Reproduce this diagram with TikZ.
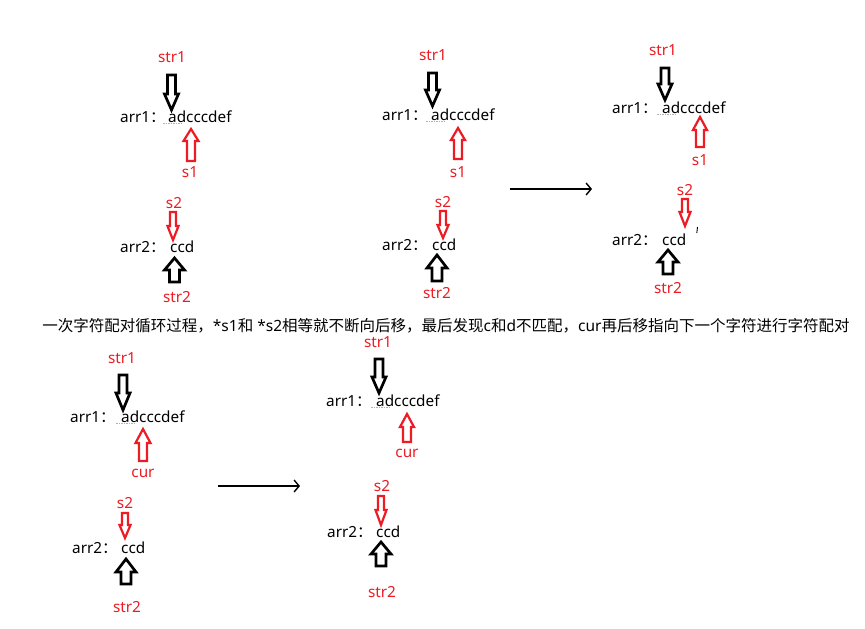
\documentclass[tikz,border=0pt]{standalone}
\usepackage{fontspec}
\setmainfont{Noto Sans}
\newfontfamily\cjk{Noto Sans CJK SC}
\usetikzlibrary{arrows.meta}
\definecolor{myred}{RGB}{237,28,36}
\tikzset{
  lbl/.style={font=\fontsize{15.3}{18}\selectfont, inner sep=0pt},
  redlbl/.style={lbl, text=myred},
  txt/.style={lbl, anchor=mid west, yshift=-3pt},
  blk/.style={draw=black, line width=2.7pt, line join=miter},
  rdb/.style={draw=myred, line width=2.2pt, line join=miter},
  flow/.style={line width=1.4pt, -{Straight Barb[length=5pt,width=12pt]}},
  smudge/.style={draw=black!30, line width=0.6pt, dash pattern=on 1.5pt off 1pt},
}
% style, x, y tail, y head base, y tip, shaft half width, head half width
\newcommand\blockarr[7]{\draw[#1] ({#2-#6},#3) -- ({#2-#6},#4) -- ({#2-#7},#4) -- (#2,#5) -- ({#2+#7},#4) -- ({#2+#6},#4) -- ({#2+#6},#3) -- cycle;}
\begin{document}
\begin{tikzpicture}[x=1pt,y=-1pt]
\useasboundingbox (0,0) rectangle (865,629);
\fill[white] (0,0) rectangle (865,629);

% ---------- panel 1 ----------
\node[redlbl] (p1str1) at (172,57) {str1};
\blockarr{blk}{171.5}{75}{94}{110}{4}{7}
\node[txt] (p1arr1) at (120,117) {arr1{\cjk ：}};
\node[txt] (p1s) at (168,117) {adcccdef};
\draw[smudge] (163,123) -- (183,123);
\blockarr{rdb}{191}{161}{141}{129}{4}{7.5}
\node[redlbl] (p1s1) at (190,172) {s1};
\node[redlbl] (p1s2) at (174,203) {s2};
\blockarr{rdb}{173}{212}{226}{240}{3}{5.5}
\node[txt] (p1arr2) at (120,247) {arr2{\cjk ：}};
\node[txt] (p1t) at (170,247) {ccd};
\blockarr{blk}{174.5}{282}{270}{258}{5}{10}
\node[redlbl] (p1str2) at (177,297) {str2};

% ---------- panel 2 ----------
\node[redlbl] (p2str1) at (433,55) {str1};
\blockarr{blk}{432.5}{73}{90}{106}{4}{7}
\node[txt] (p2arr1) at (382,115) {arr1{\cjk ：}};
\node[txt] (p2s) at (431,115) {adcccdef};
\draw[smudge] (426,121) -- (446,121);
\blockarr{rdb}{458}{159}{140}{128}{4}{7}
\node[redlbl] (p2s1) at (458,172) {s1};
\node[redlbl] (p2s2) at (443,202) {s2};
\blockarr{rdb}{443}{211}{225}{238}{3}{5.5}
\node[txt] (p2arr2) at (382,245) {arr2{\cjk ：}};
\node[txt] (p2t) at (432,245) {ccd};
\blockarr{blk}{437}{281}{268}{255}{5}{10}
\node[redlbl] (p2str2) at (437,293) {str2};

\coordinate (f1a) at (510,189);
\coordinate (f1b) at (592,189);
\draw[flow] (f1a) -- (f1b);

% ---------- panel 3 ----------
\node[redlbl] (p3str1) at (663,50) {str1};
\blockarr{blk}{665}{68}{84}{100}{4}{7}
\node[txt] (p3arr1) at (612,108) {arr1{\cjk ：}};
\node[txt] (p3s) at (662,108) {adcccdef};
\draw[smudge] (657,114) -- (677,114);
\blockarr{rdb}{700}{147}{130}{117}{4}{7}
\node[redlbl] (p3s1) at (700,160) {s1};
\node[redlbl] (p3s2) at (685,190) {s2};
\blockarr{rdb}{685}{199}{212}{226}{3}{5.5}
\node[txt] (p3arr2) at (612,240) {arr2{\cjk ：}};
\node[txt] (p3t) at (662,240) {ccd};
\draw[line width=0.9pt] (697.5,227) -- (696.8,233);
\blockarr{blk}{668}{274}{262}{250}{5}{10}
\node[redlbl] (p3str2) at (668,288) {str2};

% ---------- caption ----------
\node[lbl, font=\fontsize{15.5}{18}\selectfont] (cap) at (446,326)
  {{\cjk 一次字符配对循环过程，}*s1{\cjk 和} *s2{\cjk 相等就不断向后移，最后发现}c{\cjk 和}d{\cjk 不匹配，}cur{\cjk 再后移指向下一个字符进行字符配对}};

% ---------- panel 4 ----------
\node[redlbl] (p4str1) at (122,358) {str1};
\blockarr{blk}{123}{375}{393}{410}{4}{7}
\node[txt] (p4arr1) at (70,417) {arr1{\cjk ：}};
\node[txt] (p4s) at (121,417) {adcccdef};
\draw[smudge] (116,423) -- (136,423);
\blockarr{rdb}{143}{461}{443}{429}{4}{7.5}
\node[redlbl] (p4cur) at (143,473) {cur};
\node[redlbl] (p4s2) at (125,503) {s2};
\blockarr{rdb}{125}{513}{525}{538}{3}{5.5}
\node[txt] (p4arr2) at (72,548) {arr2{\cjk ：}};
\node[txt] (p4t) at (121,548) {ccd};
\blockarr{blk}{126}{584}{572}{559}{5}{10}
\node[redlbl] (p4str2) at (127,607) {str2};

\coordinate (f2a) at (218,486);
\coordinate (f2b) at (300,486);
\draw[flow] (f2a) -- (f2b);

% ---------- panel 5 ----------
\node[redlbl] (p5str1) at (378,342) {str1};
\blockarr{blk}{379}{359}{377}{393}{4}{7}
\node[txt] (p5arr1) at (326,401) {arr1{\cjk ：}};
\node[txt] (p5s) at (376,401) {adcccdef};
\draw[smudge] (371,407) -- (391,407);
\blockarr{rdb}{407}{442}{427}{414}{4}{7}
\node[redlbl] (p5cur) at (407,453) {cur};
\node[redlbl] (p5s2) at (382,486) {s2};
\blockarr{rdb}{381}{496}{510}{525}{3}{5.5}
\node[txt] (p5arr2) at (327,532) {arr2{\cjk ：}};
\node[txt] (p5t) at (376,532) {ccd};
\blockarr{blk}{381}{566}{554}{542}{5}{10}
\node[redlbl] (p5str2) at (382,592) {str2};
\end{tikzpicture}
\end{document}
